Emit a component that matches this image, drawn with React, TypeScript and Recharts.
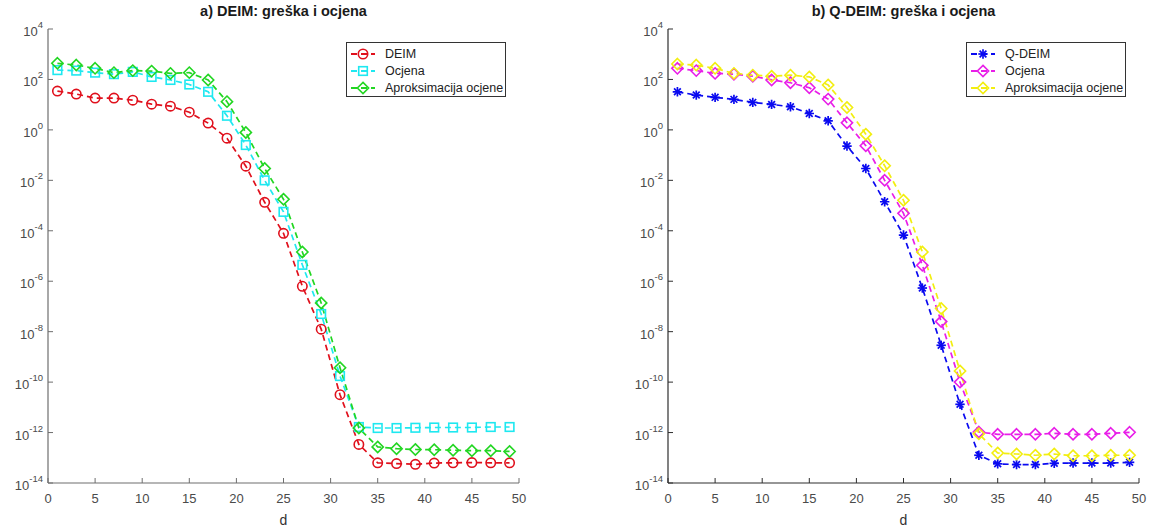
import { LineChart, Line, XAxis, YAxis, Legend } from 'recharts';

// d = 1, 3, ..., 49
const dValues = [1, 3, 5, 7, 9, 11, 13, 15, 17, 19, 21, 23, 25, 27, 29, 31, 33, 35, 37, 39, 41, 43, 45, 47, 49];

// vrijednosti su zadane kao eksponenti (log10)
const deimExp = [1.54, 1.42, 1.26, 1.26, 1.18, 1.02, 0.94, 0.7, 0.27, -0.33, -1.44, -2.87, -4.1, -6.2, -7.9, -10.5, -12.47, -13.2, -13.23, -13.26, -13.21, -13.2, -13.19, -13.2, -13.2];
const ocjenaAExp = [2.37, 2.35, 2.27, 2.21, 2.3, 2.1, 1.98, 1.8, 1.51, 0.56, -0.6, -2.0, -3.25, -5.35, -7.3, -9.76, -11.78, -11.82, -11.82, -11.81, -11.8, -11.8, -11.8, -11.78, -11.78];
const aproksAExp = [2.64, 2.57, 2.44, 2.27, 2.35, 2.33, 2.24, 2.27, 1.98, 1.12, -0.1, -1.53, -2.75, -4.84, -6.86, -9.43, -11.82, -12.57, -12.64, -12.67, -12.68, -12.7, -12.72, -12.72, -12.75];

const qdeimExp = [1.51, 1.38, 1.29, 1.21, 1.09, 1.01, 0.92, 0.65, 0.36, -0.64, -1.53, -2.85, -4.17, -6.27, -8.54, -10.88, -12.9, -13.24, -13.27, -13.27, -13.22, -13.21, -13.21, -13.21, -13.18];
const ocjenaBExp = [2.44, 2.35, 2.24, 2.21, 2.13, 1.98, 1.87, 1.67, 1.22, 0.28, -0.63, -2.0, -3.31, -5.37, -7.6, -10.0, -11.98, -12.07, -12.07, -12.07, -12.03, -12.07, -12.07, -12.03, -11.99];
const aproksBExp = [2.61, 2.57, 2.44, 2.24, 2.17, 2.13, 2.17, 2.1, 1.78, 0.89, -0.17, -1.42, -2.79, -4.84, -7.08, -9.56, -12.05, -12.81, -12.85, -12.9, -12.85, -12.92, -12.92, -12.9, -12.9];

const xTicks = [0, 5, 10, 15, 20, 25, 30, 35, 40, 45, 50];
const yTickExps = [-14, -12, -10, -8, -6, -4, -2, 0, 2, 4];
const yTicks = yTickExps.map((e) => Math.pow(10, e));

const dataA = dValues.map((d, i) => ({
  d,
  err: Math.pow(10, deimExp[i]),
  est: Math.pow(10, ocjenaAExp[i]),
  approx: Math.pow(10, aproksAExp[i]),
}));

const dataB = dValues.map((d, i) => ({
  d,
  err: Math.pow(10, qdeimExp[i]),
  est: Math.pow(10, ocjenaBExp[i]),
  approx: Math.pow(10, aproksBExp[i]),
}));

const FONT = '"Liberation Sans", Arial, sans-serif';

type MarkerKind = 'circle' | 'square' | 'diamond' | 'star';

function Marker({ kind, cx, cy, color }: { kind: MarkerKind; cx: number; cy: number; color: string }) {
  const sw = 1.6;
  if (kind === 'circle') return <circle cx={cx} cy={cy} r={4.7} fill="none" stroke={color} strokeWidth={sw} />;
  if (kind === 'square') return <rect x={cx - 4.3} y={cy - 4.3} width={8.6} height={8.6} fill="none" stroke={color} strokeWidth={sw} />;
  if (kind === 'diamond') {
    const s = 5.6;
    return (
      <polygon
        points={`${cx},${cy - s} ${cx + s},${cy} ${cx},${cy + s} ${cx - s},${cy}`}
        fill="none"
        stroke={color}
        strokeWidth={sw}
      />
    );
  }
  const s = 4.7;
  const d = s * 0.72;
  return (
    <g stroke={color} strokeWidth={1.7}>
      <line x1={cx - s} y1={cy} x2={cx + s} y2={cy} />
      <line x1={cx} y1={cy - s} x2={cx} y2={cy + s} />
      <line x1={cx - d} y1={cy - d} x2={cx + d} y2={cy + d} />
      <line x1={cx - d} y1={cy + d} x2={cx + d} y2={cy - d} />
    </g>
  );
}

const dotFor = (kind: MarkerKind, color: string, name: string) => (props: any) => {
  const { cx, cy, index } = props;
  if (cx == null || cy == null) return <g key={`${name}-${index}`} />;
  return (
    <g key={`${name}-${index}`}>
      <Marker kind={kind} cx={cx} cy={cy} color={color} />
    </g>
  );
};

type SeriesDef = { key: string; label: string; color: string; marker: MarkerKind };

const seriesA: SeriesDef[] = [
  { key: 'err', label: 'DEIM', color: '#e0101c', marker: 'circle' },
  { key: 'est', label: 'Ocjena', color: '#1ee8f0', marker: 'square' },
  { key: 'approx', label: 'Aproksimacija ocjene', color: '#22d622', marker: 'diamond' },
];

const seriesB: SeriesDef[] = [
  { key: 'err', label: 'Q-DEIM', color: '#0a0af0', marker: 'star' },
  { key: 'est', label: 'Ocjena', color: '#e81ee8', marker: 'diamond' },
  { key: 'approx', label: 'Aproksimacija ocjene', color: '#f2ee10', marker: 'diamond' },
];

function BoxLegend({ series }: { series: SeriesDef[] }) {
  return (
    <div
      style={{
        width: 160,
        height: 55,
        border: '1px solid #333',
        background: '#fff',
        fontFamily: FONT,
        fontSize: 12.5,
        color: '#222',
        boxSizing: 'border-box',
        paddingTop: 2,
      }}
    >
      {series.map((s) => (
        <div key={s.key} style={{ display: 'flex', alignItems: 'center', height: 17 }}>
          <svg width={38} height={14} style={{ flex: 'none' }}>
            <line x1={4} y1={7} x2={28} y2={7} stroke={s.color} strokeWidth={2} strokeDasharray="6 4" />
            <Marker kind={s.marker} cx={16} cy={7} color={s.color} />
          </svg>
          <span style={{ whiteSpace: 'nowrap' }}>{s.label}</span>
        </div>
      ))}
    </div>
  );
}

function makeXTick(color: string, top: boolean) {
  return (props: any) => {
    const { x, y, payload } = props;
    return (
      <g>
        <line x1={x} y1={y} x2={x} y2={top ? y + 5 : y - 5} stroke={color} strokeWidth={1} />
        {!top && (
          <text x={x} y={y + 20} textAnchor="middle" fontSize={13} fontFamily={FONT} fill="#4a4a4a">
            {payload.value}
          </text>
        )}
      </g>
    );
  };
}

function makeYTick(color: string, right: boolean) {
  return (props: any) => {
    const { x, y, payload } = props;
    const e = Math.round(Math.log10(payload.value));
    return (
      <g>
        <line x1={x} y1={y} x2={right ? x - 5 : x + 5} y2={y} stroke={color} strokeWidth={1} />
        {!right && (
          <text x={x - 5} y={y + 7} textAnchor="end" fontFamily={FONT} fill="#4a4a4a">
            <tspan fontSize={13}>10</tspan>
            <tspan fontSize={9.5} dy={-8}>{e}</tspan>
          </text>
        )}
      </g>
    );
  };
}

function Panel({
  data,
  series,
  axisColor,
  marginLeft,
  marginRight,
  legendLeft,
}: {
  data: any[];
  series: SeriesDef[];
  axisColor: string;
  marginLeft: number;
  marginRight: number;
  legendLeft: number;
}) {
  return (
    <LineChart width={577} height={527} data={data} margin={{ top: 29, right: marginRight, bottom: 0, left: marginLeft }}>
      <XAxis
        dataKey="d"
        type="number"
        domain={[0, 50]}
        ticks={xTicks}
        height={44}
        tickSize={0}
        tickMargin={0}
        tickLine={false}
        axisLine={{ stroke: axisColor, strokeWidth: 1.2 }}
        tick={makeXTick(axisColor, false)}
        interval={0}
        label={{ value: 'd', position: 'insideBottom', offset: 2, fontSize: 14, fontFamily: FONT, fill: '#333' }}
      />
      <XAxis
        xAxisId="top"
        orientation="top"
        dataKey="d"
        type="number"
        domain={[0, 50]}
        ticks={xTicks}
        height={0}
        tickSize={0}
        tickMargin={0}
        tickLine={false}
        axisLine={{ stroke: axisColor, strokeWidth: 1.2 }}
        tick={makeXTick(axisColor, true)}
        interval={0}
      />
      <YAxis
        type="number"
        scale="log"
        domain={[1e-14, 1e4]}
        allowDataOverflow
        ticks={yTicks}
        width={40}
        tickSize={0}
        tickMargin={0}
        tickLine={false}
        axisLine={{ stroke: axisColor, strokeWidth: 1.2 }}
        tick={makeYTick(axisColor, false)}
        interval={0}
      />
      <YAxis
        yAxisId="right"
        orientation="right"
        type="number"
        scale="log"
        domain={[1e-14, 1e4]}
        allowDataOverflow
        ticks={yTicks}
        width={0}
        tickSize={0}
        tickMargin={0}
        tickLine={false}
        axisLine={{ stroke: axisColor, strokeWidth: 1.2 }}
        tick={makeYTick(axisColor, true)}
        interval={0}
      />
      <Legend
        layout="vertical"
        align="center"
        verticalAlign="middle"
        content={() => <BoxLegend series={series} />}
        wrapperStyle={{ position: 'absolute', top: 42, left: legendLeft, width: 160 }}
      />
      {series.map((s) => (
        <Line
          key={s.key}
          type="linear"
          dataKey={s.key}
          name={s.label}
          stroke={s.color}
          strokeWidth={1.7}
          strokeDasharray="6 4"
          dot={dotFor(s.marker, s.color, s.key)}
          activeDot={false}
          isAnimationActive={false}
        />
      ))}
    </LineChart>
  );
}

const titleStyle = (centerX: number): React.CSSProperties => ({
  position: 'absolute',
  top: 3,
  left: centerX - 150,
  width: 300,
  textAlign: 'center',
  fontFamily: FONT,
  fontWeight: 'bold',
  fontSize: 14.5,
  color: '#1a1a1a',
});

export default function App() {
  return (
    <div style={{ position: 'absolute', left: 0, top: 0, width: 1154, height: 527, background: '#fff', overflow: 'hidden' }}>
      <div style={{ position: 'absolute', left: 0, top: 0 }}>
        <Panel data={dataA} series={seriesA} axisColor="#6e6e6e" marginLeft={8} marginRight={58} legendLeft={346} />
      </div>
      <div style={{ position: 'absolute', left: 577, top: 0 }}>
        <Panel data={dataB} series={seriesB} axisColor="#2e2e2e" marginLeft={51} marginRight={15} legendLeft={389} />
      </div>
      <div style={titleStyle(283.5)}>a) DEIM: greška i ocjena</div>
      <div style={titleStyle(903.5)}>b) Q-DEIM: greška i ocjena</div>
    </div>
  );
}
